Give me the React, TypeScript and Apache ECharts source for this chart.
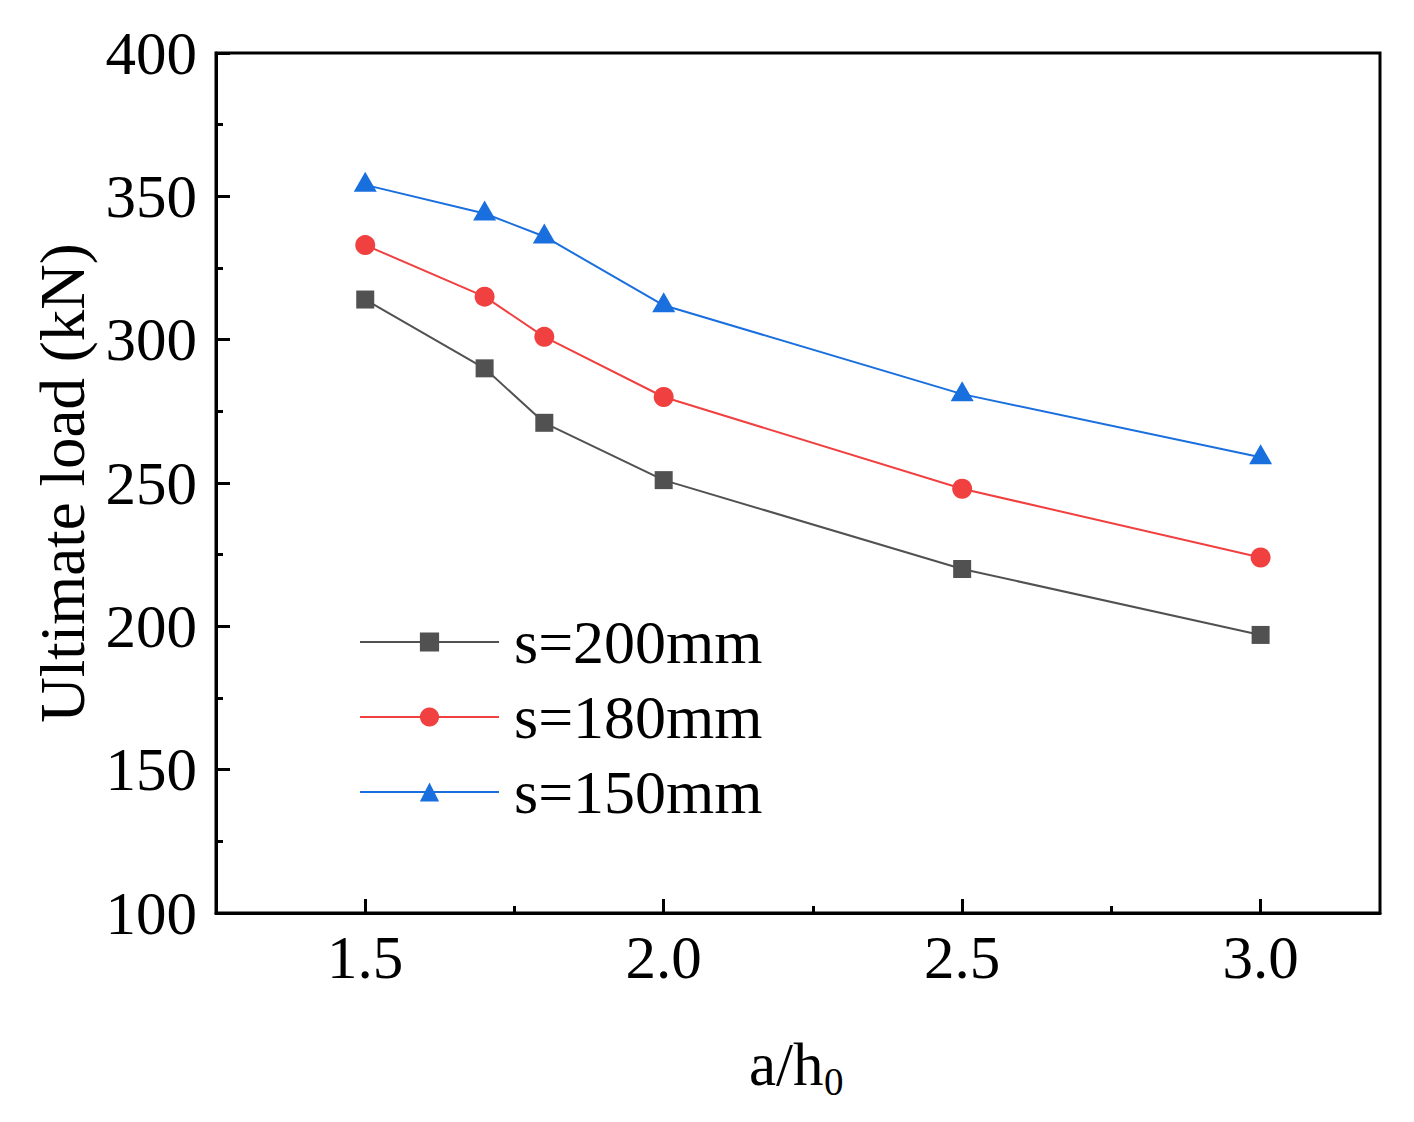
import React, { useEffect, useRef } from "react";
import * as echarts from "echarts";

const xValues = [1.5, 1.7, 1.8, 2.0, 2.5, 3.0];
const s200 = [314, 290, 271, 251, 220, 197];
const s180 = [333, 315, 301, 280, 248, 224];
const s150 = [354, 344, 336, 312, 281, 259];
const seriesNames = ["s=200mm", "s=180mm", "s=150mm"];
const xTickValues = [1.5, 2.0, 2.5, 3.0];
const xMinorTickValues = [1.75, 2.25, 2.75];
const yTitle = "Ultimate load (kN)";
const xTitleMain = "a/h";
const xTitleSub = "0";

const FONT = "'Liberation Serif', 'Times New Roman', Times, serif";
const COLORS = ["#515151", "#F14040", "#1A6FDF"];

export default function App() {
  const ref = useRef<HTMLDivElement>(null);
  useEffect(() => {
    if (!ref.current) return;
    const chart = echarts.init(ref.current, undefined, { renderer: "svg" });
    const toPairs = (ys: number[]) => xValues.map((x, i) => [x, ys[i]]);
    const symbols = ["rect", "circle", "triangle"];
    const sizes: any[] = [18, 20, [23, 20]];
    const offsets: any[] = [[0, 0], [0, 0], [0, -3]];
    const all = [s200, s180, s150];
    const option: any = {
      animation: false,
      backgroundColor: "#fff",
      grid: {
        left: 216,
        right: 34,
        top: 53,
        bottom: 209,
        show: true,
        borderColor: "#000",
        borderWidth: 3,
        backgroundColor: "transparent",
      },
      legend: {
        orient: "vertical",
        left: 359,
        top: 611,
        padding: 0,
        itemWidth: 139,
        itemHeight: 24,
        itemGap: 13,
        data: seriesNames,
        textStyle: {
          fontFamily: FONT,
          fontSize: 62,
          color: "#000",
          padding: [0, 0, 0, 10],
        },
      },
      xAxis: [
        {
          type: "value",
          min: 1.25,
          max: 3.2,
          axisLine: { show: true, lineStyle: { color: "#000", width: 3 } },
          axisTick: {
            show: true,
            inside: true,
            length: 14,
            customValues: xTickValues,
            lineStyle: { color: "#000", width: 3 },
          },
          axisLabel: {
            customValues: xTickValues,
            formatter: (v: number) => v.toFixed(1),
            fontFamily: FONT,
            fontSize: 61,
            color: "#000",
            margin: 14,
          },
          splitLine: { show: false },
        },
        {
          type: "value",
          position: "bottom",
          min: 1.25,
          max: 3.2,
          axisLine: { show: false },
          axisTick: {
            show: true,
            inside: true,
            length: 7,
            customValues: xMinorTickValues,
            lineStyle: { color: "#000", width: 3 },
          },
          axisLabel: { show: false },
          splitLine: { show: false },
        },
      ],
      yAxis: {
        type: "value",
        min: 100,
        max: 400,
        interval: 50,
        name: yTitle,
        nameLocation: "middle",
        nameGap: 121,
        nameTextStyle: { fontFamily: FONT, fontSize: 63, color: "#000" },
        axisLine: { show: true, lineStyle: { color: "#000", width: 3 } },
        axisTick: { show: true, inside: true, length: 14, lineStyle: { color: "#000", width: 3 } },
        minorTick: { show: true, splitNumber: 2, length: 7, lineStyle: { color: "#000", width: 3 } },
        axisLabel: { fontFamily: FONT, fontSize: 61, color: "#000", margin: 19 },
        splitLine: { show: false },
      },
      graphic: [
        {
          type: "text",
          left: 749,
          top: 1034,
          style: { text: xTitleMain, font: `61px ${FONT}`, fill: "#000" },
        },
        {
          type: "text",
          left: 824,
          top: 1062,
          style: { text: xTitleSub, font: `39px ${FONT}`, fill: "#000" },
        },
      ],
      series: seriesNames.map((name, k) => ({
        name,
        type: "line",
        xAxisIndex: 0,
        data: toPairs(all[k]),
        symbol: symbols[k],
        symbolSize: sizes[k],
        symbolOffset: offsets[k],
        showSymbol: true,
        lineStyle: { color: COLORS[k], width: 2 },
        itemStyle: { color: COLORS[k] },
        z: 3,
      })),
    };
    chart.setOption(option);
    return () => chart.dispose();
  }, []);
  return (
    <div
      ref={ref}
      style={{ position: "absolute", left: 0, top: 0, width: 1414, height: 1122, background: "#fff" }}
    />
  );
}
